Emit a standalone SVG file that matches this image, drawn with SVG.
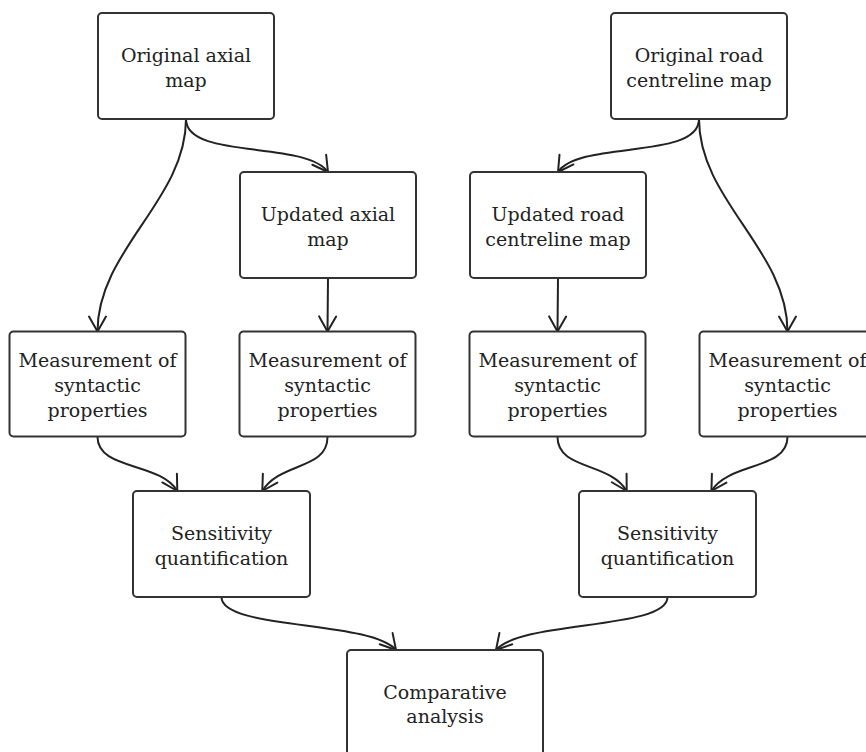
<svg xmlns="http://www.w3.org/2000/svg" width="866" height="752" viewBox="0 0 866 752">
<style>
.box{fill:#fff;stroke:#333;stroke-width:2}
.t{font-family:"DejaVu Serif","Liberation Serif",serif;font-size:19px;fill:#222;text-anchor:middle}
.c{fill:none;stroke:#222;stroke-width:2;marker-end:url(#ah)}
</style>
<defs>
<marker id="ah" markerUnits="userSpaceOnUse" markerWidth="40" markerHeight="40" refX="0" refY="0" viewBox="-20 -20 40 40" orient="auto" overflow="visible">
<path d="M-15,-8.5 L0,0 L-15,8.5" fill="none" stroke="#222" stroke-width="2" stroke-linecap="round" stroke-linejoin="round"/>
</marker>
</defs>
<rect width="866" height="752" fill="#fff"/>
<g id="connectors">
<path class="c" d="M186,119 C186,160 305,140 328,172"/>
<path class="c" d="M186,119 C186,200 97.5,250 97.5,331.5"/>
<path class="c" d="M699,119 C699,160 580,140 558,172"/>
<path class="c" d="M699,119 C699,200 787.5,250 787.5,331.5"/>
<path class="c" d="M328,278 L327.5,331.5"/>
<path class="c" d="M558,278 L557.5,331.5"/>
<path class="c" d="M97.5,437 C97.5,470 160,462 177.3,491"/>
<path class="c" d="M327.5,437 C327.5,470 280,462 262.3,491"/>
<path class="c" d="M557.5,437 C557.5,470 610,462 626.7,491"/>
<path class="c" d="M787.5,437 C787.5,470 729,462 711.4,491"/>
<path class="c" d="M221.5,597 C221.5,630 370,620 396,650"/>
<path class="c" d="M667.5,597 C667.5,630 522,620 496,650"/>
</g>
<g id="orig_axial"><rect class="box" x="98" y="13" width="176" height="106" rx="4"/><text class="t" x="186" y="62">Original axial</text><text class="t" x="186" y="87">map</text></g>
<g id="orig_road"><rect class="box" x="611" y="13" width="176" height="106" rx="4"/><text class="t" x="699" y="62">Original road</text><text class="t" x="699" y="87">centreline map</text></g>
<g id="upd_axial"><rect class="box" x="240" y="172" width="176" height="106" rx="4"/><text class="t" x="328" y="221">Updated axial</text><text class="t" x="328" y="246">map</text></g>
<g id="upd_road"><rect class="box" x="470" y="172" width="176" height="106" rx="4"/><text class="t" x="558" y="221">Updated road</text><text class="t" x="558" y="246">centreline map</text></g>
<g id="meas1"><rect class="box" x="9.5" y="331.5" width="176" height="105" rx="4"/><text class="t" x="97.5" y="367">Measurement of</text><text class="t" x="97.5" y="392">syntactic</text><text class="t" x="97.5" y="417">properties</text></g>
<g id="meas2"><rect class="box" x="239.5" y="331.5" width="176" height="105" rx="4"/><text class="t" x="327.5" y="367">Measurement of</text><text class="t" x="327.5" y="392">syntactic</text><text class="t" x="327.5" y="417">properties</text></g>
<g id="meas3"><rect class="box" x="469.5" y="331.5" width="176" height="105" rx="4"/><text class="t" x="557.5" y="367">Measurement of</text><text class="t" x="557.5" y="392">syntactic</text><text class="t" x="557.5" y="417">properties</text></g>
<g id="meas4"><rect class="box" x="699.5" y="331.5" width="176" height="105" rx="4"/><text class="t" x="787.5" y="367">Measurement of</text><text class="t" x="787.5" y="392">syntactic</text><text class="t" x="787.5" y="417">properties</text></g>
<g id="sens1"><rect class="box" x="133" y="491" width="177" height="106" rx="4"/><text class="t" x="221.5" y="540">Sensitivity</text><text class="t" x="221.5" y="565">quantification</text></g>
<g id="sens2"><rect class="box" x="579" y="491" width="177" height="106" rx="4"/><text class="t" x="667.5" y="540">Sensitivity</text><text class="t" x="667.5" y="565">quantification</text></g>
<g id="comp"><rect class="box" x="347" y="650" width="196" height="106" rx="4"/><text class="t" x="445" y="698.5">Comparative</text><text class="t" x="445" y="723">analysis</text></g>
</svg>
